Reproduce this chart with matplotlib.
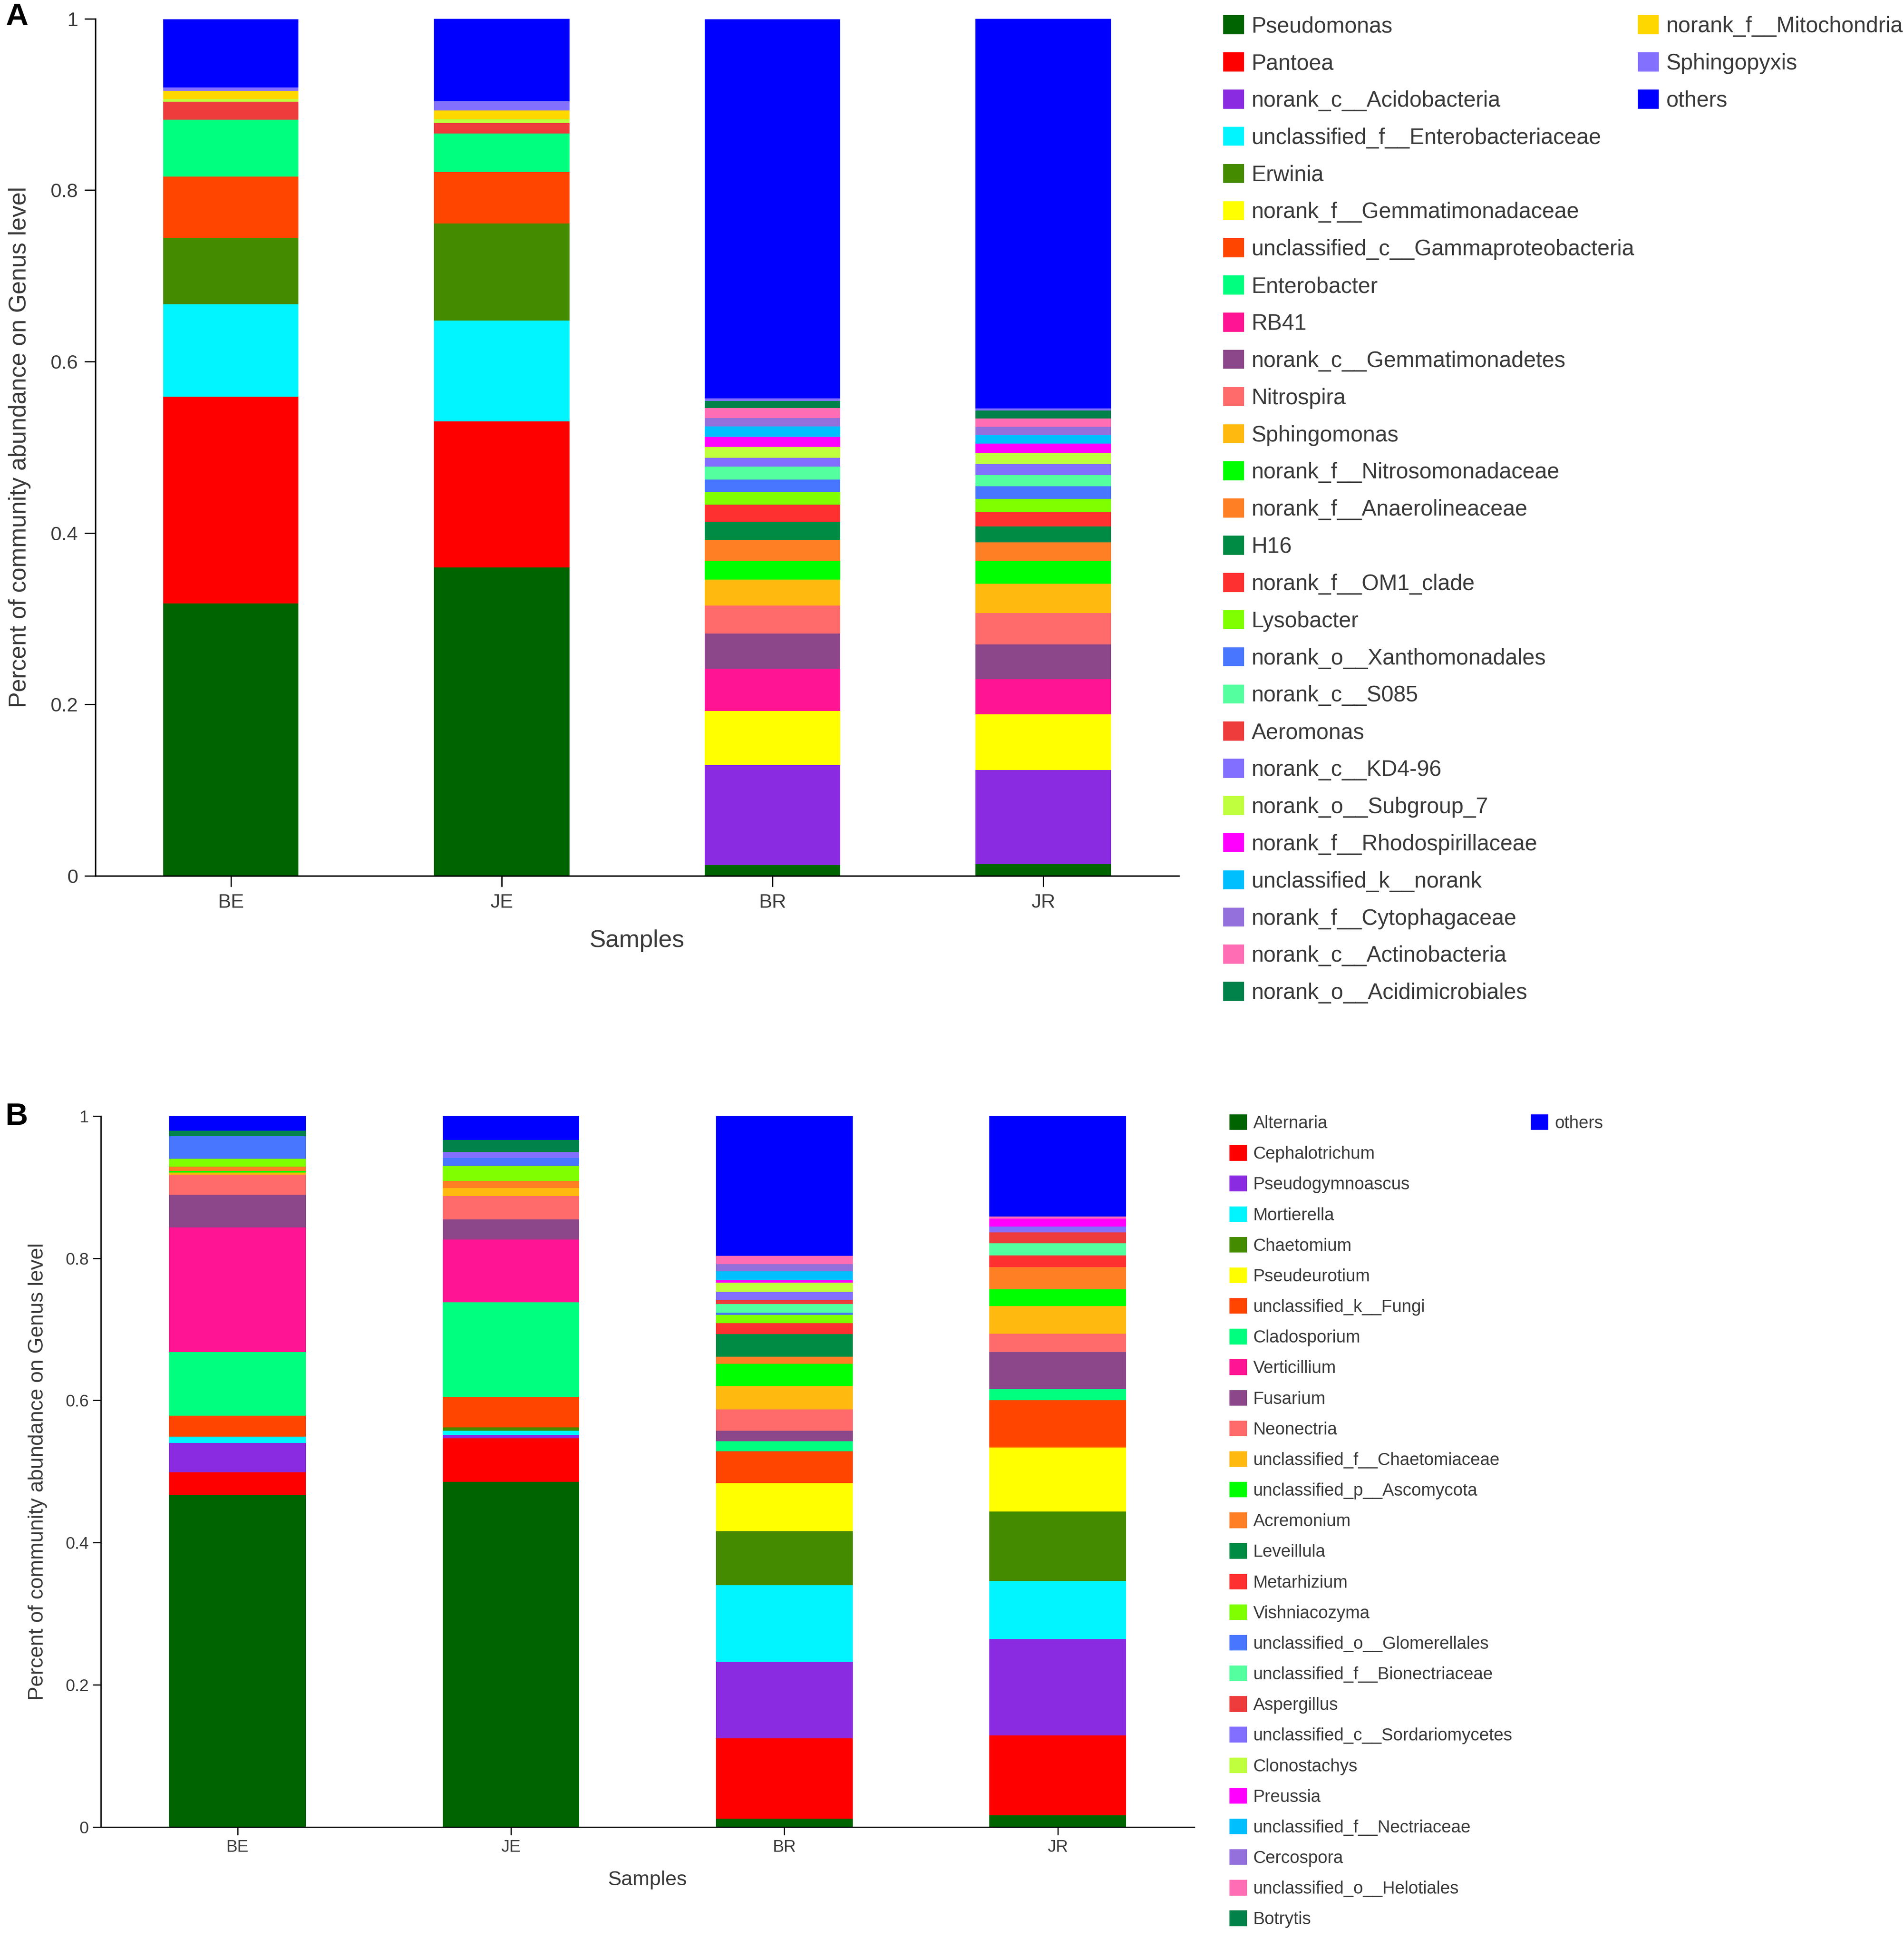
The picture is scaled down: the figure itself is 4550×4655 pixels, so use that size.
import numpy as np
import matplotlib
matplotlib.use("Agg")
import matplotlib.pyplot as plt
from matplotlib.patches import Patch

plt.rcParams['font.family'] = ['Liberation Sans', 'DejaVu Sans']

samples = ['BE', 'JE', 'BR', 'JR']

# panel A, bacteria: relative abundance per sample (BE, JE, BR, JR)
bac_names = ['Pseudomonas', 'Pantoea', 'norank_c__Acidobacteria',
             'unclassified_f__Enterobacteriaceae', 'Erwinia',
             'norank_f__Gemmatimonadaceae', 'unclassified_c__Gammaproteobacteria',
             'Enterobacter', 'RB41', 'norank_c__Gemmatimonadetes', 'Nitrospira',
             'Sphingomonas', 'norank_f__Nitrosomonadaceae', 'norank_f__Anaerolineaceae',
             'H16', 'norank_f__OM1_clade', 'Lysobacter', 'norank_o__Xanthomonadales',
             'norank_c__S085', 'Aeromonas', 'norank_c__KD4-96', 'norank_o__Subgroup_7',
             'norank_f__Rhodospirillaceae', 'unclassified_k__norank',
             'norank_f__Cytophagaceae', 'norank_c__Actinobacteria',
             'norank_o__Acidimicrobiales', 'norank_f__Mitochondria', 'Sphingopyxis',
             'others']
bac_vals = [
    [0.318, 0.360, 0.0125, 0.0136],
    [0.241, 0.170, 0.0, 0.0],
    [0.0, 0.0, 0.117, 0.110],
    [0.108, 0.118, 0.0, 0.0],
    [0.077, 0.113, 0.0, 0.0],
    [0.0, 0.0, 0.063, 0.065],
    [0.072, 0.060, 0.0, 0.0],
    [0.066, 0.045, 0.0, 0.0],
    [0.0, 0.0, 0.049, 0.041],
    [0.0, 0.0, 0.041, 0.0405],
    [0.0, 0.0, 0.033, 0.0366],
    [0.0, 0.0, 0.030, 0.034],
    [0.0, 0.0, 0.022, 0.027],
    [0.0, 0.0, 0.0245, 0.0214],
    [0.0, 0.0, 0.021, 0.0187],
    [0.0, 0.0, 0.020, 0.0163],
    [0.0, 0.0, 0.0148, 0.0156],
    [0.0, 0.0, 0.0144, 0.0148],
    [0.0, 0.0, 0.0152, 0.0132],
    [0.021, 0.0125, 0.0, 0.0],
    [0.0, 0.0, 0.0105, 0.0128],
    [0.003, 0.0043, 0.0125, 0.0128],
    [0.0, 0.0, 0.0117, 0.0109],
    [0.0, 0.0, 0.0121, 0.0101],
    [0.0, 0.0, 0.0097, 0.0097],
    [0.0, 0.0, 0.0117, 0.0097],
    [0.0, 0.0, 0.0086, 0.009],
    [0.0097, 0.0103, 0.0, 0.0],
    [0.0043, 0.0107, 0.0027, 0.0027],
    [0.0794, 0.0967, 0.4426, 0.4544],
]

# panel B, fungi
fun_names = ['Alternaria', 'Cephalotrichum', 'Pseudogymnoascus', 'Mortierella',
             'Chaetomium', 'Pseudeurotium', 'unclassified_k__Fungi', 'Cladosporium',
             'Verticillium', 'Fusarium', 'Neonectria', 'unclassified_f__Chaetomiaceae',
             'unclassified_p__Ascomycota', 'Acremonium', 'Leveillula', 'Metarhizium',
             'Vishniacozyma', 'unclassified_o__Glomerellales',
             'unclassified_f__Bionectriaceae', 'Aspergillus',
             'unclassified_c__Sordariomycetes', 'Clonostachys', 'Preussia',
             'unclassified_f__Nectriaceae', 'Cercospora', 'unclassified_o__Helotiales',
             'Botrytis', 'others']
fun_vals = [
    [0.467, 0.4858, 0.0118, 0.0163],
    [0.0319, 0.0608, 0.113, 0.1125],
    [0.0413, 0.0048, 0.1077, 0.1353],
    [0.0086, 0.0057, 0.1075, 0.0817],
    [0.0, 0.0049, 0.0763, 0.0979],
    [0.0, 0.0, 0.0676, 0.0901],
    [0.0297, 0.0431, 0.0443, 0.0664],
    [0.0893, 0.1329, 0.0142, 0.0162],
    [0.1757, 0.0882, 0.0, 0.0],
    [0.0458, 0.0285, 0.0147, 0.0514],
    [0.0281, 0.0327, 0.0304, 0.0263],
    [0.003, 0.0112, 0.0326, 0.0387],
    [0.0027, 0.0, 0.0312, 0.0236],
    [0.0056, 0.0102, 0.0102, 0.0308],
    [0.0, 0.0, 0.0318, 0.0],
    [0.0, 0.0, 0.0151, 0.0169],
    [0.0113, 0.021, 0.012, 0.0],
    [0.0319, 0.0113, 0.003, 0.0],
    [0.0, 0.0, 0.012, 0.0169],
    [0.0, 0.0, 0.006, 0.015],
    [0.0, 0.0082, 0.0113, 0.0083],
    [0.0, 0.0, 0.0127, 0.0],
    [0.0, 0.0, 0.0038, 0.0112],
    [0.0, 0.0, 0.0124, 0.0],
    [0.0, 0.0, 0.0101, 0.0],
    [0.0, 0.0, 0.0117, 0.003],
    [0.0075, 0.0169, 0.0, 0.0],
    [0.0206, 0.0338, 0.1966, 0.1415],
]

palette = ['#006400', '#FF0000', '#8A2BE2', '#00F5FF', '#458B00', '#FFFF00',
           '#FF4500', '#00FF7F', '#FF1493', '#8B4789', '#FF6A6A', '#FFB90F',
           '#00FF00', '#FF7F24', '#008B45', '#FF3030', '#7FFF00', '#4876FF',
           '#54FF9F', '#EE3B3B', '#836FFF', '#C0FF3E', '#FF00FF', '#00BFFF',
           '#9370DB', '#FF6EB4', '#00824A', '#FFD700', '#8470FF']
fun_palette = palette[:27]

txt = '#3a3a3a'


def stacked(ax, names, vals, colors):
    x = np.arange(len(samples))
    bottom = np.zeros(len(samples))
    for name, v, c in zip(names, vals, colors):
        v = np.array(v)
        ax.bar(x, v, bottom=bottom, width=0.5, color=c, linewidth=0, label=name)
        bottom += v
    ax.set_xlim(-0.5, 3.5)
    ax.set_ylim(0, 1)
    ax.set_xticks(x)
    ax.set_xticklabels(samples)
    ax.set_yticks([0, 0.2, 0.4, 0.6, 0.8, 1])
    ax.set_yticklabels(['0', '0.2', '0.4', '0.6', '0.8', '1'])
    for s in ['top', 'right']:
        ax.spines[s].set_visible(False)


fig = plt.figure(figsize=(45.5, 46.55), dpi=100)

# ---- panel A
axA = fig.add_axes([0.0501, 0.5504, 0.5690, 0.4400])
colA = palette + ['#0000FF']
stacked(axA, bac_names, bac_vals, colA)
for s in ['left', 'bottom']:
    axA.spines[s].set_linewidth(2.5)
axA.tick_params(length=19, width=2.2, pad=11, labelsize=34, colors='black', labelcolor=txt)
axA.set_ylabel('Percent of community abundance on Genus level', fontsize=41, color=txt, va='center')
axA.yaxis.set_label_coords(-0.07, 0.5)
axA.set_xlabel('Samples', fontsize=42, color=txt, va='center')
axA.xaxis.set_label_coords(0.5, -0.0757)

hA = [Patch(facecolor=c, edgecolor='none') for c in colA]
kw = dict(loc='upper left', bbox_transform=fig.transFigure, frameon=False,
          borderpad=0, borderaxespad=0, labelcolor=txt)
legA1 = axA.legend(hA[:27], bac_names[:27], bbox_to_anchor=(0.6424, 0.9922), fontsize=38,
                   handlelength=0.95, handleheight=0.95, handletextpad=0.34, labelspacing=0.70, **kw)
axA.add_artist(legA1)
axA.legend(hA[27:], bac_names[27:], bbox_to_anchor=(0.8602, 0.9922), fontsize=38,
           handlelength=0.95, handleheight=0.95, handletextpad=0.34, labelspacing=0.70, **kw)

# ---- panel B
axB = fig.add_axes([0.0530, 0.0621, 0.5743, 0.3650])
colB = fun_palette + ['#0000FF']
stacked(axB, fun_names, fun_vals, colB)
for s in ['left', 'bottom']:
    axB.spines[s].set_linewidth(2.2)
axB.tick_params(length=14, width=2.0, pad=7, labelsize=29, colors='black', labelcolor=txt)
axB.set_ylabel('Percent of community abundance on Genus level', fontsize=36, color=txt, va='center')
axB.yaxis.set_label_coords(-0.0578, 0.5)
axB.set_xlabel('Samples', fontsize=35, color=txt, va='center')
axB.xaxis.set_label_coords(0.5, -0.0747)

hB = [Patch(facecolor=c, edgecolor='none') for c in colB]
legB1 = axB.legend(hB[:27], fun_names[:27], bbox_to_anchor=(0.6457, 0.4279), fontsize=30,
                   handlelength=1.0, handleheight=1.0, handletextpad=0.36, labelspacing=0.75, **kw)
axB.add_artist(legB1)
axB.legend(hB[27:], fun_names[27:], bbox_to_anchor=(0.8040, 0.4279), fontsize=30,
           handlelength=1.0, handleheight=1.0, handletextpad=0.36, labelspacing=0.75, **kw)

fig.text(40 / 4550, 1 - 40 / 4655, 'A', fontsize=54, fontweight='bold', ha='center', va='center')
fig.text(40 / 4550, 1 - 2668 / 4655, 'B', fontsize=54, fontweight='bold', ha='center', va='center')

fig.savefig('out.png', dpi=100, facecolor='white')
